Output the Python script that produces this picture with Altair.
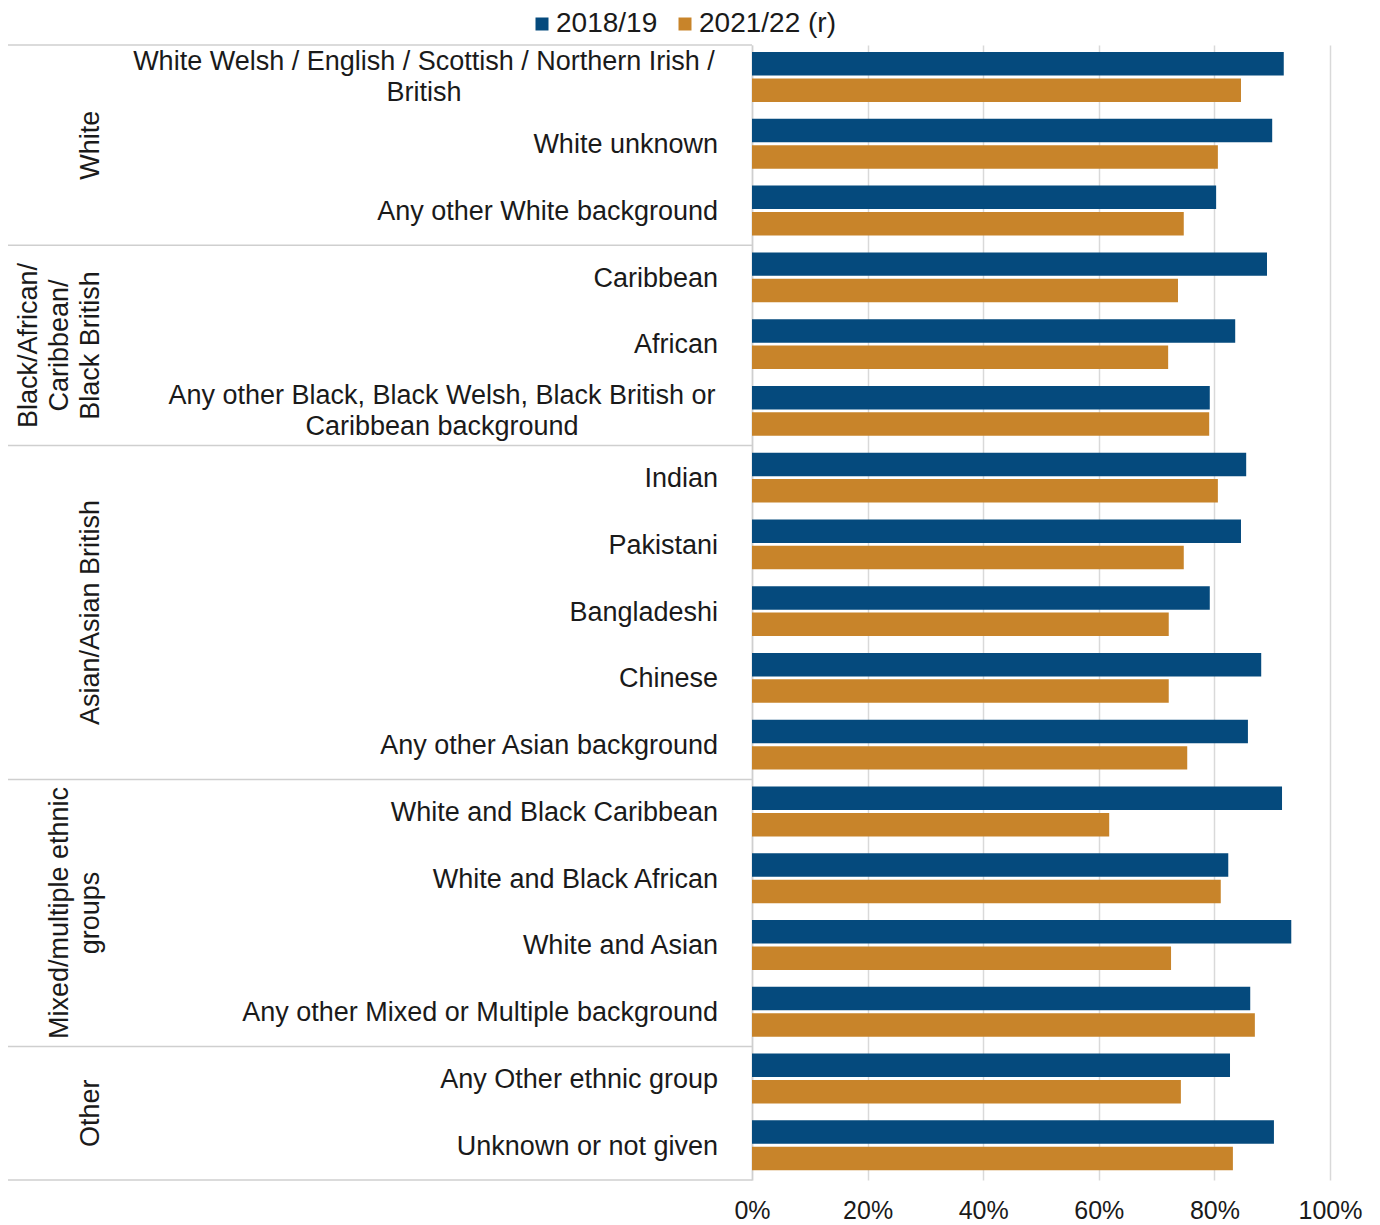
import altair as alt
import pandas as pd

categories = [
    "White Welsh / English / Scottish / Northern Irish / British",
    "White unknown",
    "Any other White background",
    "Caribbean",
    "African",
    "Any other Black, Black Welsh, Black British or Caribbean background",
    "Indian",
    "Pakistani",
    "Bangladeshi",
    "Chinese",
    "Any other Asian background",
    "White and Black Caribbean",
    "White and Black African",
    "White and Asian",
    "Any other Mixed or Multiple background",
    "Any Other ethnic group",
    "Unknown or not given",
]
label_lines = {
    categories[0]: "White Welsh / English / Scottish / Northern Irish /\nBritish",
    categories[5]: "Any other Black, Black Welsh, Black British or\nCaribbean background",
}
series = ["2018/19", "2021/22 (r)"]
colors = ["#054a7d", "#c8842a"]
v_2018 = [92.0, 90.0, 80.3, 89.1, 83.6, 79.2, 85.5, 84.6, 79.2, 88.1, 85.8,
          91.7, 82.4, 93.3, 86.2, 82.7, 90.3]
v_2021 = [84.6, 80.6, 74.7, 73.7, 72.0, 79.1, 80.6, 74.7, 72.1, 72.1, 75.3,
          61.8, 81.1, 72.5, 87.0, 74.2, 83.2]

group_labels = ["White", "Black/African/\nCaribbean/\nBlack British",
                "Asian/Asian British", "Mixed/multiple ethnic\ngroups", "Other"]
group_first = [0, 3, 6, 11, 15]
group_size = [3, 3, 5, 4, 2]

FONT = "Liberation Sans"
FS = 27
LH = 31
TXT = "#1a1a1a"
LINE = "#cfcfcf"

rows = []
for i, c in enumerate(categories):
    rows.append({"cat": c, "series": series[0], "value": v_2018[i] / 100})
    rows.append({"cat": c, "series": series[1], "value": v_2021[i] / 100})
bars_df = pd.DataFrame(rows)

ysc = alt.Scale(domain=categories, paddingInner=0, paddingOuter=0)

bars = alt.Chart(bars_df).mark_bar(stroke=None).encode(
    x=alt.X("value:Q", scale=alt.Scale(domain=[0, 1]),
            axis=alt.Axis(values=[0, 0.2, 0.4, 0.6, 0.8, 1.0], format=".0%",
                          title=None, domain=False, ticks=False, grid=True,
                          gridColor="#d9d9d9", gridWidth=1.5,
                          labelFontSize=25, labelFont=FONT, labelColor=TXT,
                          labelPadding=18, labelFlush=False)),
    y=alt.Y("cat:N", scale=ysc,
            axis=alt.Axis(labels=False, ticks=False, title=None, grid=False,
                          domain=True, domainColor=LINE, domainWidth=1.5)),
    yOffset=alt.YOffset("series:N", sort=series,
                        scale=alt.Scale(paddingInner=0.11, paddingOuter=0.32, align=0.42)),
    color=alt.Color("series:N", sort=series,
                    scale=alt.Scale(domain=series, range=colors),
                    legend=alt.Legend(title=None, orient="none", direction="horizontal",
                                      legendX=-224, legendY=-35,
                                      symbolType="square", symbolSize=169,
                                      symbolStrokeWidth=0, labelFontSize=28,
                                      labelFont=FONT, labelColor=TXT,
                                      labelOffset=0, columnPadding=13)),
)

single_df = pd.DataFrame({"cat": [c for c in categories if c not in label_lines]})
single = alt.Chart(single_df).mark_text(
    align="right", baseline="middle", fontSize=FS, font=FONT, color=TXT, dy=0
).encode(y=alt.Y("cat:N", scale=ysc), x=alt.value(-34), text="cat:N")

multi_layers = []
centers = {categories[0]: -328, categories[5]: -310}
for c, t in label_lines.items():
    mdf = pd.DataFrame({"cat": [c], "txt": [t]})
    multi_layers.append(
        alt.Chart(mdf).mark_text(
            align="center", baseline="middle", fontSize=FS, font=FONT,
            color=TXT, lineBreak="\n", lineHeight=LH, dy=-16
        ).encode(y=alt.Y("cat:N", scale=ysc), x=alt.value(centers[c]), text="txt:N")
    )

group_layers = []
for i in range(5):
    n_lines = group_labels[i].count("\n") + 1
    odd = group_size[i] % 2 == 1
    gdf = pd.DataFrame({"cat": [categories[group_first[i] + group_size[i] // 2]],
                        "g": [group_labels[i]]})
    group_layers.append(
        alt.Chart(gdf).mark_text(
            align="center", baseline="bottom", angle=270, fontSize=FS,
            font=FONT, color=TXT, lineBreak="\n", lineHeight=LH,
            dy=-(n_lines - 1) * LH
        ).encode(
            y=alt.Y("cat:N", scale=ysc, bandPosition=0.5 if odd else 0),
            x=alt.value(-647), text="g:N")
    )

sep_df = pd.DataFrame({"cat": [categories[i] for i in group_first]})
seps = alt.Chart(sep_df).mark_rule(color=LINE, strokeWidth=1.5).encode(
    y=alt.Y("cat:N", scale=ysc, bandPosition=0),
    x=alt.value(-744), x2=alt.value(0))
bottom_df = pd.DataFrame({"cat": [categories[-1]]})
sep_bottom = alt.Chart(bottom_df).mark_rule(color=LINE, strokeWidth=1.5).encode(
    y=alt.Y("cat:N", scale=ysc, bandPosition=1),
    x=alt.value(-744), x2=alt.value(0))

chart = alt.layer(bars, single, *multi_layers, *group_layers, seps, sep_bottom).properties(
    width=578, height=1135,
    padding={"left": 744, "top": 37, "right": 40, "bottom": 44},
    autosize=alt.AutoSizeParams(type="none"),
).configure_view(stroke=None)

chart.save("out.html", embed_options={"renderer": "svg", "actions": False})
